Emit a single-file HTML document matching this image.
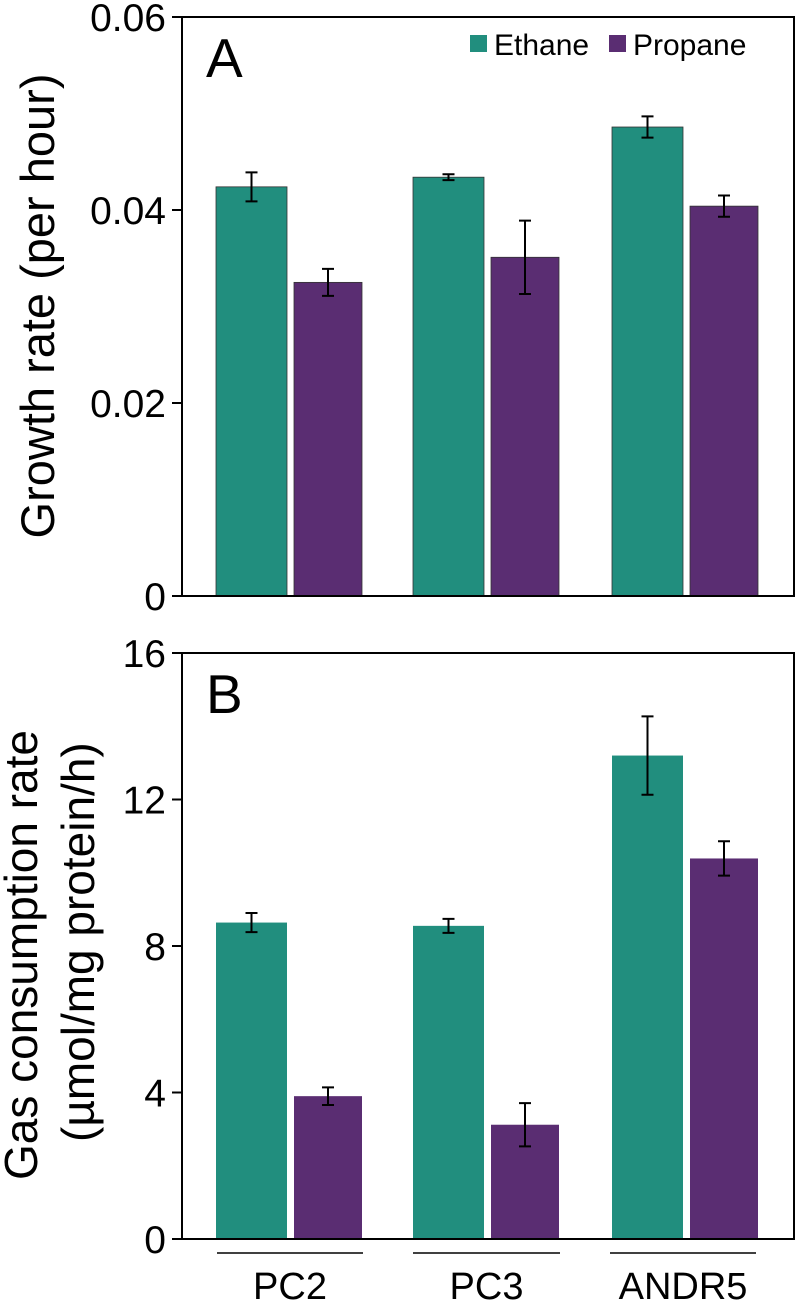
<!DOCTYPE html>
<html><head><meta charset="utf-8"><style>
body{margin:0;background:#fff;}
svg{display:block;font-family:"Liberation Sans",Arial,sans-serif;}
</style></head><body>
<svg id="chart" width="798" height="1302" viewBox="0 0 798 1302"></svg>
<script>
const categories = ["PC2","PC3","ANDR5"];
const growthEthane = [0.0424,0.0434,0.0486];
const growthEthaneErr = [0.0015,0.0003,0.0011];
const growthPropane = [0.0325,0.0351,0.0404];
const growthPropaneErr = [0.0014,0.0038,0.0011];
const gasEthane = [8.64,8.55,13.2];
const gasEthaneErr = [0.26,0.19,1.07];
const gasPropane = [3.9,3.12,10.39];
const gasPropaneErr = [0.24,0.59,0.47];
const growthTicks = [0,0.02,0.04,0.06];
const growthTickLabels = ["0","0.02","0.04","0.06"];
const gasTicks = [0,4,8,12,16];
const gasTickLabels = ["0","4","8","12","16"];

const NS="http://www.w3.org/2000/svg";
const svg=document.getElementById('chart');
function mk(tag,attrs,parent,text){const e=document.createElementNS(NS,tag);for(const k in attrs)e.setAttribute(k,attrs[k]);if(text!==undefined)e.textContent=text;(parent||svg).appendChild(e);return e;}
const TEAL="#218e7e",PURP="#5a2d72";
const groupStart=[216,413,612], ethW=71, gap=7, propW=68;

function panel(p){
  const g=mk('g',{});
  
  
  const y=v=>p.y0-(v-p.min)/(p.max-p.min)*(p.y0-p.y1);
  categories.forEach((c,i)=>{
    const x1=groupStart[i], x2=x1+ethW+gap;
    const specs=[[x1,ethW,p.eth[i],p.ethErr[i],TEAL,'ethane'],[x2,propW,p.prop[i],p.propErr[i],PURP,'propane']];
    specs.forEach(s=>{
      const r=mk('rect',{x:s[0],y:y(s[2]),width:s[1],height:p.y0-y(s[2]),fill:s[4],stroke:p.outline?'#333':'none','stroke-width':p.outline?0.8:0},g);
      
      
      const cx=s[0]+s[1]/2, t=y(s[2]+s[3]), b=y(s[2]-s[3]);
      const eb=mk('path',{d:`M${cx},${t}V${b}M${cx-6},${t}H${cx+6}M${cx-6},${b}H${cx+6}`,stroke:'#000','stroke-width':2,fill:'none'},g);
      
      
    });
  });
  const box=mk('rect',{x:182,y:p.y1,width:612,height:p.y0-p.y1,fill:'none',stroke:'#000','stroke-width':2},g);
  
  
  p.ticks.forEach((t,i)=>{
    const ty=y(t);
    const tk=mk('line',{x1:172,x2:182,y1:ty,y2:ty,stroke:'#000','stroke-width':2},g);
    
    
    const tl=mk('text',{x:166,y:ty+14,'text-anchor':'end','font-size':39},g,p.labels[i]);
    
    
  });
  const pl=mk('text',{x:206,y:p.y1+60,'font-size':55},g,p.letter);
  
  
  return y;
}
panel({name:'panel-a-growth-rate',y0:596,y1:17,min:0,max:0.06,eth:growthEthane,ethErr:growthEthaneErr,prop:growthPropane,propErr:growthPropaneErr,ticks:growthTicks,labels:growthTickLabels,letter:'A',outline:true});
panel({name:'panel-b-gas-consumption',y0:1239,y1:653,min:0,max:16,eth:gasEthane,ethErr:gasEthaneErr,prop:gasPropane,propErr:gasPropaneErr,ticks:gasTicks,labels:gasTickLabels,letter:'B',outline:false});

const t1=mk('text',{x:0,y:0,'font-size':47,'text-anchor':'middle',transform:'translate(54,306) rotate(-90)'},svg,'Growth rate (per hour)');


const t2=mk('text',{x:0,y:0,'font-size':46,'text-anchor':'start',transform:'translate(37,1180) rotate(-90)'},svg,'Gas consumption rate');


const t3=mk('text',{x:0,y:0,'font-size':46,'text-anchor':'start',transform:'translate(94,1142) rotate(-90)'},svg,'(µmol/mg protein/h)');



const lg=mk('g',{});


const le1=mk('rect',{x:470,y:35,width:17,height:17,fill:TEAL},lg);


const lt1=mk('text',{x:494,y:55,'font-size':30},lg,'Ethane');


const le2=mk('rect',{x:609,y:35,width:17,height:17,fill:PURP},lg);


const lt2=mk('text',{x:633,y:55,'font-size':30},lg,'Propane');



const lineX=[[217,363],[413,560],[610,756]];
categories.forEach((c,i)=>{
  const ln=mk('line',{x1:lineX[i][0],x2:lineX[i][1],y1:1253,y2:1253,stroke:'#000','stroke-width':1.5});
  
  
  const tx=mk('text',{x:(lineX[i][0]+lineX[i][1])/2,y:1299,'text-anchor':'middle','font-size':38},svg,c);
  
  
});
</script>
</body></html>
